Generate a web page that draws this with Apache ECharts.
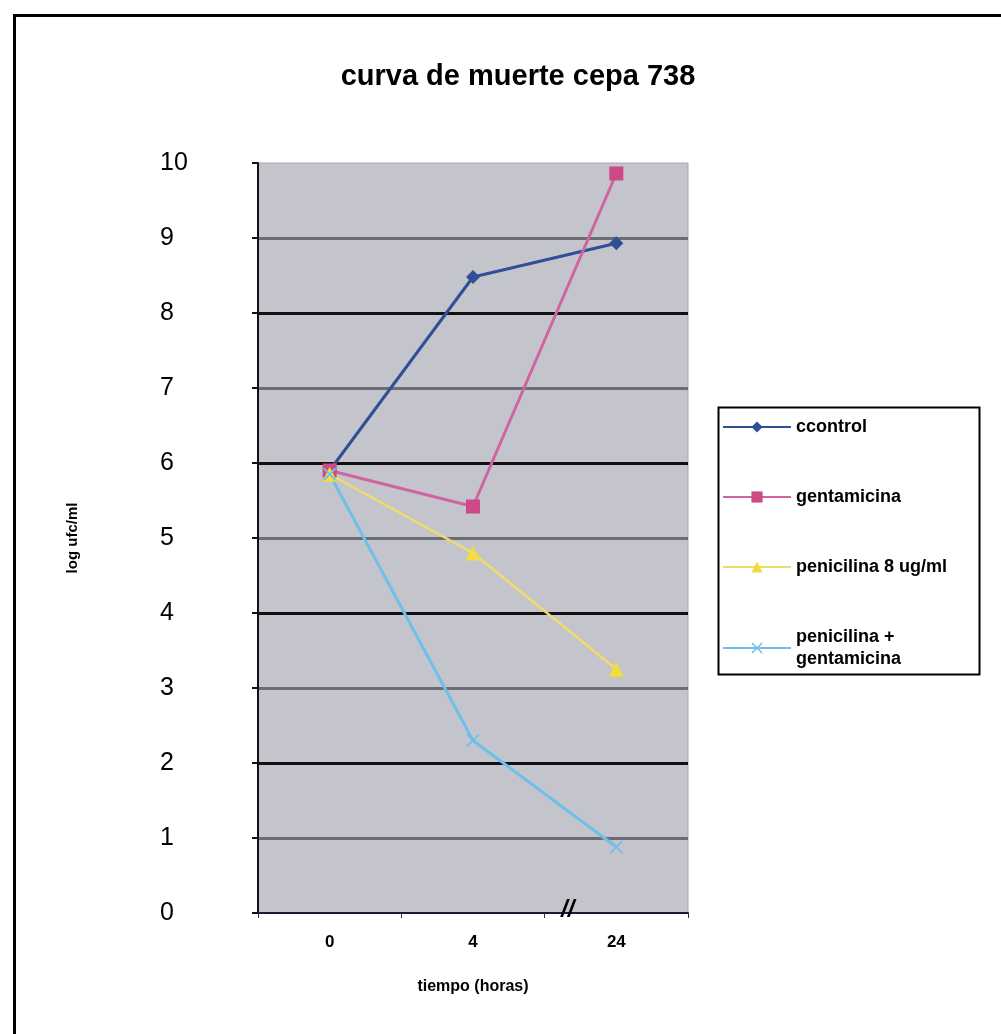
<!DOCTYPE html>
<html>
<head>
<meta charset="utf-8">
<script src="https://cdn.jsdelivr.net/npm/echarts@6/dist/echarts.min.js"></script>
<style>html,body{margin:0;padding:0;background:#fff}#c{width:1001px;height:1034px}</style>
</head>
<body>
<div id="c"></div>
<script>
var categories = ['0', '4', '24'];
var ccontrol = [5.9, 8.48, 8.93];
var gentamicina = [5.9, 5.42, 9.86];
var penicilina8 = [5.85, 4.8, 3.25];
var peniGenta = [5.85, 2.3, 0.88];
var yTicks = [0,1,2,3,4,5,6,7,8,9,10];

var chart = echarts.init(document.getElementById('c'));
var xShape = 'path://M0,1 L1,0 L5,4 L9,0 L10,1 L6,5 L10,9 L9,10 L5,6 L1,10 L0,9 L4,5Z';
var gridColors = ['transparent','#6c6c74','#111','#6c6c74','#111','#6c6c74','#111','#6c6c74','#111','#6c6c74','transparent'];

chart.setOption({
  backgroundColor: '#fff',
  animation: false,
  title: {
    text: 'curva de muerte cepa 738',
    left: 513, top: 57, textAlign: 'center',
    textStyle: {fontFamily: 'Liberation Sans', fontWeight: 900, fontSize: 29, color: '#000'}
  },
  grid: {
    left: 258, right: 313, top: 163, bottom: 121,
    show: true, backgroundColor: '#c4c4cc', borderColor: '#a8a8b0', borderWidth: 1
  },
  legend: {
    orient: 'vertical', left: 722, top: 416,
    itemWidth: 68, itemHeight: 14, itemGap: 48, padding: 0,
    textStyle: {fontFamily: 'Liberation Sans', fontWeight: 'bold', fontSize: 18, color: '#000', lineHeight: 22}
  },
  xAxis: {
    type: 'category', data: categories, boundaryGap: true,
    name: 'tiempo (horas)', nameLocation: 'middle', nameGap: 66,
    nameTextStyle: {fontFamily: 'Liberation Sans', fontWeight: 900, fontSize: 16, color: '#000'},
    axisLine: {lineStyle: {color: '#1a1a40', width: 2}},
    axisTick: {show: true, alignWithLabel: false, length: 5, lineStyle: {color: '#333'}},
    axisLabel: {margin: 21, fontFamily: 'Liberation Sans', fontWeight: 'bold', fontSize: 17, color: '#000'},
    splitLine: {show: false}
  },
  yAxis: {
    type: 'value', min: 0, max: 10, interval: 1,
    name: 'log ufc/ml', nameLocation: 'middle', nameGap: 178, nameRotate: 90,
    nameTextStyle: {fontFamily: 'Liberation Sans', fontWeight: 900, fontSize: 15, color: '#000'},
    axisLine: {show: true, lineStyle: {color: '#111', width: 2}},
    axisTick: {show: true, length: 6, lineStyle: {color: '#111', width: 2}},
    axisLabel: {align: 'left', margin: 98, fontFamily: 'Liberation Sans', fontSize: 25, color: '#000',
      formatter: function (v) { return yTicks.indexOf(v) >= 0 ? String(v) : ''; }},
    splitLine: {show: true, lineStyle: {color: gridColors, width: 3}}
  },
  series: [
    {name: 'ccontrol', type: 'line', data: ccontrol, symbol: 'diamond', symbolSize: 14,
     lineStyle: {color: '#2f4f96', width: 3}, itemStyle: {color: '#2f4f96'}},
    {name: 'gentamicina', type: 'line', data: gentamicina, symbol: 'rect', symbolSize: 14,
     lineStyle: {color: '#d064a0', width: 3}, itemStyle: {color: '#cc4a88'}},
    {name: 'penicilina 8 ug/ml', type: 'line', data: penicilina8, symbol: 'triangle', symbolSize: 15,
     lineStyle: {color: '#f0dc6a', width: 2.5}, itemStyle: {color: '#f2dc40'}},
    {name: 'penicilina +\ngentamicina', type: 'line', data: peniGenta, symbol: xShape, symbolSize: 13,
     lineStyle: {color: '#6ec0ea', width: 3}, itemStyle: {color: '#6ec0ea'}}
  ],
  graphic: [
    {type: 'rect', left: 12, top: 13, shape: {width: 1000, height: 1040},
     style: {fill: 'none', stroke: '#000', lineWidth: 3}, silent: true},
    {type: 'rect', left: 716, top: 405, shape: {width: 261, height: 267},
     style: {fill: 'none', stroke: '#000', lineWidth: 2}, silent: true},
    {type: 'text', left: 561, top: 898, style: {text: '//', fontFamily: 'Liberation Sans', fontWeight: 'bold', fontStyle: 'italic', fontSize: 24, fill: '#000'}, z: 100}
  ]
});
</script>
</body>
</html>
